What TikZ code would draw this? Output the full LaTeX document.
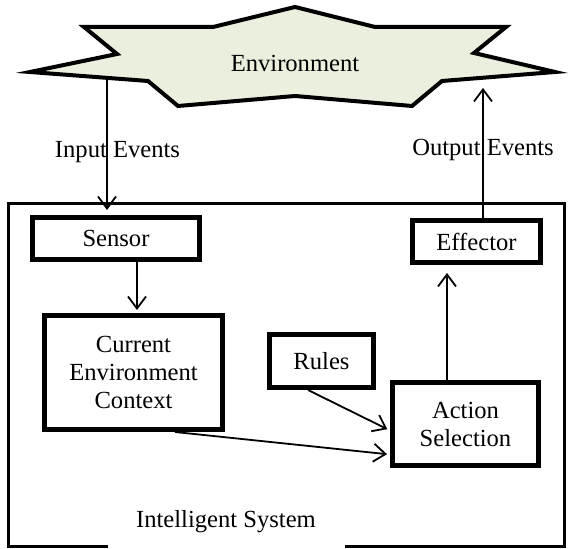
\documentclass[tikz,border=0pt]{standalone}
\usepackage{fontspec}
\setmainfont{Liberation Serif}
\usetikzlibrary{arrows.meta}
\definecolor{envgreen}{HTML}{EAF0DD}

\begin{document}
\begin{tikzpicture}[x=0.5pt,y=-0.5pt,
 font=\fontsize{12.3}{14}\selectfont,
 block/.style={draw,line width=2.5pt,align=center,inner sep=0pt},
 link/.style={-{Straight Barb[length=6pt,width=9pt]},line width=0.9pt,shorten >=1.5pt}]
 \useasboundingbox (0,0) rectangle (568,549);
 % the environment
 \draw[line width=2pt,fill=envgreen]
 (295,7) -- (375,27) -- (506,27) -- (474,53) -- (555,72) -- (442,81)
 -- (412,106) -- (295,96) -- (178,106) -- (148,81) -- (30,72) -- (117,54)
 -- (84,27) -- (213,27) -- cycle;
 \node (env) at (295,63) {Environment};
 \coordinate (envin) at (107,79);
 \coordinate (envout) at (483,85);
 % the system
 \draw[line width=1.5pt] (108,546.5) -| (8.5,203.5) -| (564.5,546.5) -- (345,546.5);
 \node (system) at (226,522) {Intelligent System};
 \node[block,minimum width=83.5pt,minimum height=21pt] (sensor) at (116,238.5) {Sensor};
 \node[block,minimum width=89pt,minimum height=57pt] (context) at (133.5,372.5) {Current\\Environment\\Context};
 \node[block,minimum width=64pt,minimum height=21pt] (effector) at (476.5,241.5) {Effector};
 \node[block,minimum width=52pt,minimum height=26.5pt] (rules) at (321.5,361) {Rules};
 \node[block,minimum width=73pt,minimum height=41.5pt] (action) at (465.5,424) {Action\\Selection};
 % events
 \node (inlabel) at (117.5,152) {Input Events};
 \node (outlabel) at (483,150) {Output Events};
 \draw[link,shorten >=2.5pt] (envin) -- (envin |- sensor.north);
 \draw[link] (effector.north -| envout) -- (envout);
 % inside
 \draw[link] ([xshift=10.5pt]sensor.south) -- ([xshift=10.5pt]sensor.south |- context.north);
 \draw[link] ([xshift=-6.75pt]rules.south) -- ([yshift=-3.25pt]action.west);
 \draw[link] ([xshift=20.75pt]context.south) -- ([yshift=-15.25pt]action.west);
 \draw[link,shorten >=4pt] ([xshift=-9.25pt]action.north) -- ([xshift=-9.25pt]action.north |- effector.south);
\end{tikzpicture}
\end{document}
